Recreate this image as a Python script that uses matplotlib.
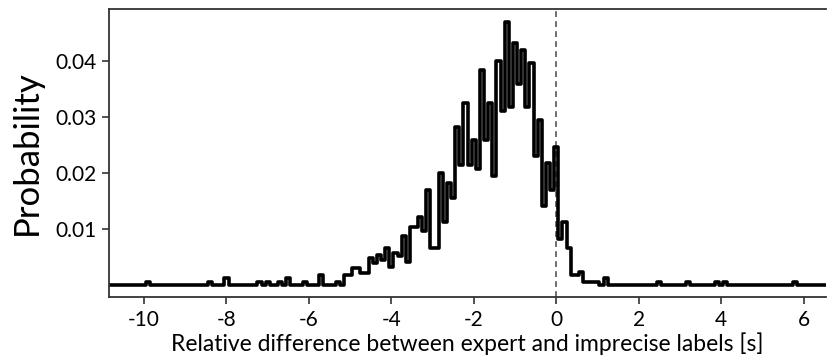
import numpy as np
import matplotlib
matplotlib.use("Agg")
import matplotlib.pyplot as plt

plt.rcParams['font.family'] = ['Lato', 'DejaVu Sans']
plt.rcParams['axes.unicode_minus'] = False

# Histogram bin centres (s) and probabilities
main_centers = [-5.3, -5.2, -5.1, -5.0, -4.9, -4.8, -4.7, -4.6, -4.5, -4.4,
                -4.3, -4.2, -4.1, -4.0, -3.9, -3.8, -3.7, -3.6, -3.5, -3.4,
                -3.3, -3.2, -3.1, -3.0, -2.9, -2.8, -2.7, -2.6, -2.5, -2.4,
                -2.3, -2.2, -2.1, -2.0, -1.9, -1.8, -1.7, -1.6, -1.5, -1.4,
                -1.3, -1.2, -1.1, -1.0, -0.9, -0.8, -0.7, -0.6, -0.5, -0.4,
                -0.3, -0.2, -0.1, 0.0, 0.1, 0.2, 0.3, 0.4, 0.5, 0.6,
                0.7, 0.8, 0.9, 1.0, 1.1, 1.2]
main_values = [0.0006, 0.0, 0.0018, 0.0018, 0.0030, 0.0030, 0.0021, 0.0021, 0.0048, 0.0039,
               0.0054, 0.0045, 0.0066, 0.0032, 0.0057, 0.0052, 0.0087, 0.0041, 0.0104, 0.0104,
               0.0121, 0.0096, 0.0170, 0.0066, 0.0066, 0.0200, 0.0113, 0.0182, 0.0155, 0.0283,
               0.0214, 0.0325, 0.0215, 0.0259, 0.0207, 0.0384, 0.0259, 0.0325, 0.0195, 0.0400,
               0.0311, 0.0470, 0.0318, 0.0432, 0.0360, 0.0420, 0.0318, 0.0396, 0.0230, 0.0295,
               0.0141, 0.0218, 0.0170, 0.0246, 0.0082, 0.0113, 0.0066, 0.0018, 0.0018, 0.0024,
               0.0006, 0.0006, 0.0006, 0.0006, 0.0, 0.0012]
tail_centers = [-9.9, -8.4, -8.0, -7.2, -7.0, -6.7, -6.5, -6.1, -5.7,
                2.5, 3.2, 3.9, 4.1, 5.8]
tail_values = [0.0006, 0.0006, 0.0012, 0.0006, 0.0006, 0.0006, 0.0012, 0.0006, 0.0018,
               0.0006, 0.0006, 0.0006, 0.0006, 0.0006]

x_ticks = [-10, -8, -6, -4, -2, 0, 2, 4, 6]
y_ticks = [0.01, 0.02, 0.03, 0.04]
y_tick_labels = ['0.01', '0.02', '0.03', '0.04']

# full bin grid (0.1 s bins), zero where nothing was observed
grid = np.round(np.arange(-110, 67) * 0.1, 1)
probs = np.zeros_like(grid)
lookup = {round(c, 1): i for i, c in enumerate(grid)}
for c, v in zip(main_centers + tail_centers, main_values + tail_values):
    probs[lookup[round(c, 1)]] = v

fig = plt.figure(figsize=(8.27, 3.61), dpi=100)
ax = fig.add_axes([0.1318, 0.177, 0.8672, 0.798])

ax.step(grid, probs, where='mid', color='black', lw=2.6,
        solid_joinstyle='round', solid_capstyle='round')
ax.axvline(0, color='#555555', lw=1.2, ls=(0, (3.5, 2.5)), zorder=0)

ax.set_xlim(-10.85, 6.55)
ax.set_ylim(-0.00214, 0.0493)
ax.set_xticks(x_ticks)
ax.set_xticklabels([str(t) for t in x_ticks])
ax.set_yticks(y_ticks)
ax.set_yticklabels(y_tick_labels)

for s in ['left', 'bottom', 'top']:
    ax.spines[s].set_color('#333333')
    ax.spines[s].set_linewidth(1.3)
ax.spines['right'].set_visible(False)
ax.tick_params(axis='both', direction='out', length=5, width=1.2,
               color='#333333', labelsize=15, pad=4)

ax.set_xlabel('Relative difference between expert and imprecise labels [s]',
              fontsize=16.5, labelpad=2)
ax.set_ylabel('Probability', fontsize=25, labelpad=9)

fig.savefig('out.png', dpi=100)
